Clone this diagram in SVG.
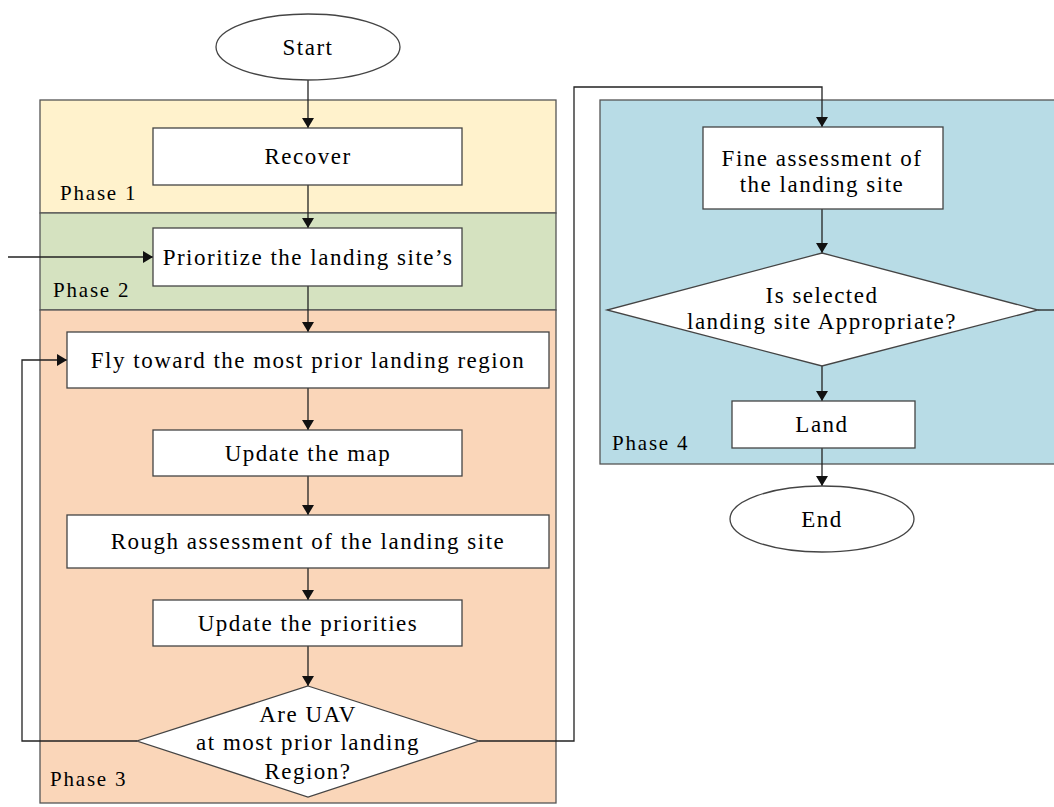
<svg xmlns="http://www.w3.org/2000/svg" width="1054" height="807" viewBox="0 0 1054 807">
  <style>
    .phase { stroke: #555; stroke-width: 1.3; }
    .node { fill: #fff; stroke: #444; stroke-width: 1.3; }
    .txt { font-family: "Liberation Serif", "Times New Roman", serif; font-size: 23px; fill: #000; text-anchor: middle; letter-spacing: 1.5px; }
    .lbl { font-family: "Liberation Serif", "Times New Roman", serif; font-size: 21px; fill: #000; letter-spacing: 1.8px; }
    .edge { fill: none; stroke: #222; stroke-width: 1.3; }
  </style>
  <defs>
    <marker id="arrow" markerWidth="10" markerHeight="12" refX="10" refY="6" orient="auto" markerUnits="userSpaceOnUse">
      <path d="M0,0 L10,6 L0,12 Z" fill="#111"/>
    </marker>
  </defs>
  <rect width="1054" height="807" fill="#fff"/>

  <!-- phase panels -->
  <g id="phase1">
    <rect class="phase" x="40" y="100" width="516" height="113" fill="#fff2cc"/>
    <text class="lbl" x="60" y="200">Phase 1</text>
  </g>
  <g id="phase2">
    <rect class="phase" x="40" y="213" width="516" height="97" fill="#d5e2c0"/>
    <text class="lbl" x="53" y="297">Phase 2</text>
  </g>
  <g id="phase3">
    <rect class="phase" x="40" y="310" width="516" height="493" fill="#fad6b9"/>
    <text class="lbl" x="50" y="786">Phase 3</text>
  </g>
  <g id="phase4">
    <rect class="phase" x="600" y="100" width="460" height="364" fill="#b8dce6"/>
    <text class="lbl" x="612" y="450">Phase 4</text>
  </g>

  <!-- connectors -->
  <g id="connectors">
    <line class="edge" x1="308" y1="80" x2="308" y2="128" marker-end="url(#arrow)"/>
    <line class="edge" x1="308" y1="185" x2="308" y2="228" marker-end="url(#arrow)"/>
    <line class="edge" x1="8" y1="257" x2="153" y2="257" marker-end="url(#arrow)"/>
    <line class="edge" x1="308" y1="286" x2="308" y2="332" marker-end="url(#arrow)"/>
    <line class="edge" x1="308" y1="388" x2="308" y2="430" marker-end="url(#arrow)"/>
    <line class="edge" x1="308" y1="476" x2="308" y2="515" marker-end="url(#arrow)"/>
    <line class="edge" x1="308" y1="568" x2="308" y2="600" marker-end="url(#arrow)"/>
    <line class="edge" x1="308" y1="646" x2="308" y2="686" marker-end="url(#arrow)"/>
    <polyline class="edge" points="137,741 22,741 22,360 67,360" marker-end="url(#arrow)"/>
    <polyline class="edge" points="479,741 574,741 574,87 822,87 822,127" marker-end="url(#arrow)"/>
    <line class="edge" x1="822" y1="209" x2="822" y2="253" marker-end="url(#arrow)"/>
    <line class="edge" x1="822" y1="366" x2="822" y2="401" marker-end="url(#arrow)"/>
    <line class="edge" x1="822" y1="448" x2="822" y2="486" marker-end="url(#arrow)"/>
    <line class="edge" x1="1038" y1="310" x2="1054" y2="310"/>
  </g>

  <!-- nodes -->
  <g id="start">
    <ellipse class="node" cx="308" cy="47" rx="92" ry="33"/>
    <text class="txt" x="308" y="55">Start</text>
  </g>
  <g id="recover">
    <rect class="node" x="153" y="128" width="309" height="57"/>
    <text class="txt" x="308" y="164">Recover</text>
  </g>
  <g id="prioritize">
    <rect class="node" x="153" y="228" width="309" height="58"/>
    <text class="txt" x="308" y="265">Prioritize the landing site’s</text>
  </g>
  <g id="fly">
    <rect class="node" x="67" y="332" width="482" height="56"/>
    <text class="txt" x="308" y="368">Fly toward the most prior landing region</text>
  </g>
  <g id="update-map">
    <rect class="node" x="153" y="430" width="309" height="46"/>
    <text class="txt" x="308" y="461">Update the map</text>
  </g>
  <g id="rough">
    <rect class="node" x="67" y="515" width="482" height="53"/>
    <text class="txt" x="308" y="549">Rough assessment of the landing site</text>
  </g>
  <g id="update-priorities">
    <rect class="node" x="153" y="600" width="309" height="46"/>
    <text class="txt" x="308" y="631">Update the priorities</text>
  </g>
  <g id="at-region">
    <polygon class="node" points="308,686 479,741 308,797 137,741"/>
    <text class="txt" x="308" y="722">Are UAV</text>
    <text class="txt" x="308" y="750">at most prior landing</text>
    <text class="txt" x="308" y="779">Region?</text>
  </g>
  <g id="fine">
    <rect class="node" x="703" y="127" width="240" height="82"/>
    <text class="txt" x="822" y="166">Fine assessment of</text>
    <text class="txt" x="822" y="192">the landing site</text>
  </g>
  <g id="appropriate">
    <polygon class="node" points="822,253 1038,310 822,366 607,310"/>
    <text class="txt" x="822" y="303">Is selected</text>
    <text class="txt" x="822" y="329">landing site Appropriate?</text>
  </g>
  <g id="land">
    <rect class="node" x="732" y="401" width="183" height="47"/>
    <text class="txt" x="822" y="432">Land</text>
  </g>
  <g id="end">
    <ellipse class="node" cx="822" cy="519" rx="92" ry="33"/>
    <text class="txt" x="822" y="527">End</text>
  </g>
</svg>
